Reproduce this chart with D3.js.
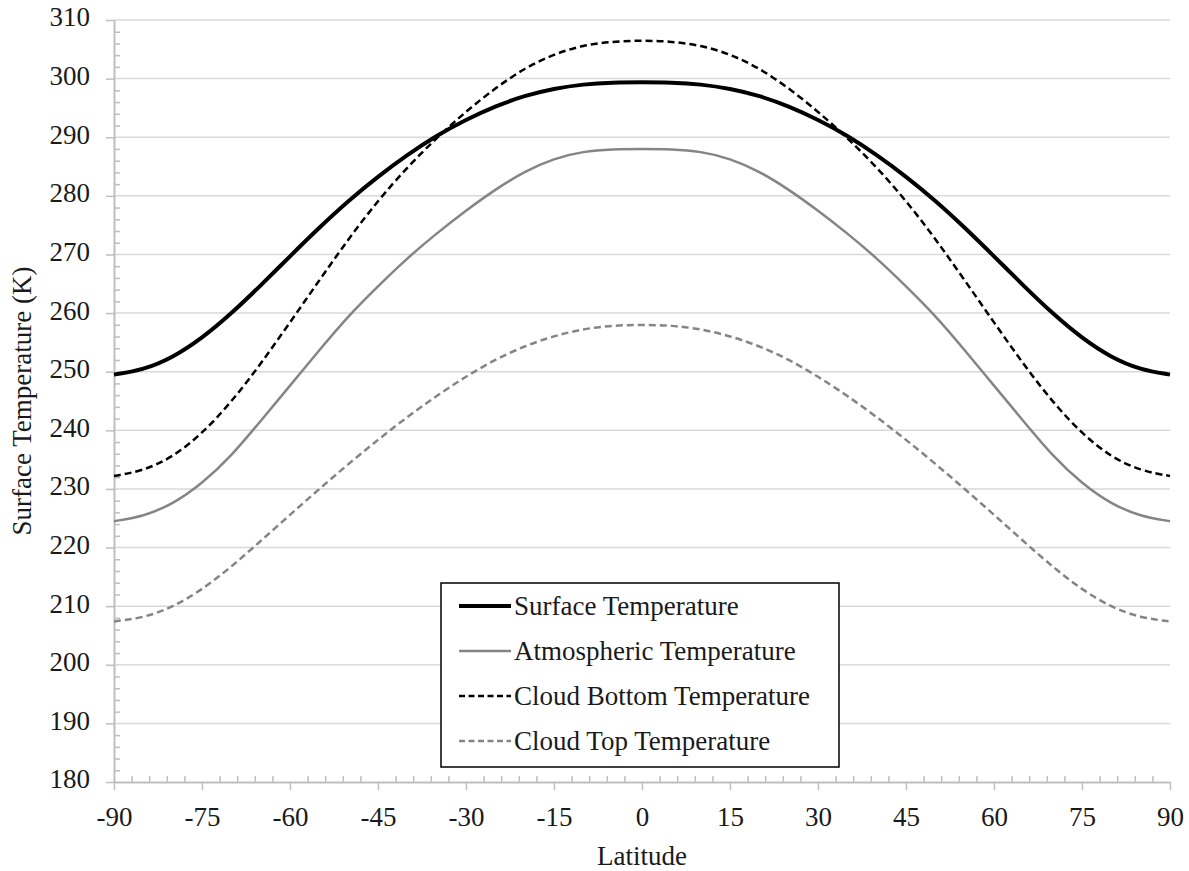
<!DOCTYPE html>
<html>
<head>
<meta charset="utf-8">
<script src="https://cdn.jsdelivr.net/npm/d3@7"></script>
<style>
  body { margin: 0; background: #fff; }
  text { font-family: "Liberation Serif", "DejaVu Serif", serif; fill: #1a1a1a; }
</style>
</head>
<body>
<div id="chart"></div>
<script>
// latitude in degrees, temperatures in K
var latitudes = [-90, -85, -80, -75, -70, -65, -60, -55, -50, -45, -40, -35, -30, -25, -20, -15, -10, -5,
  0, 5, 10, 15, 20, 25, 30, 35, 40, 45, 50, 55, 60, 65, 70, 75, 80, 85, 90];

var surfaceTemp = [249.5, 250.3, 252.4, 255.7, 259.9, 264.7, 269.7, 274.6, 279.2, 283.3, 287.0, 290.3, 293.0, 295.3, 297.1, 298.3, 299.05, 299.35,
  299.4, 299.35, 299.05, 298.3, 297.1, 295.3, 293.0, 290.3, 287.0, 283.3, 279.2, 274.6, 269.7, 264.7, 259.9, 255.7, 252.4, 250.3, 249.5];

var atmosTemp = [224.5, 225.3, 227.4, 230.9, 235.6, 241.6, 247.6, 253.7, 259.6, 264.6, 269.4, 273.6, 277.5, 281.1, 284.2, 286.4, 287.6, 287.95,
  288.0, 287.95, 287.6, 286.4, 284.2, 281.1, 277.5, 273.6, 269.4, 264.6, 259.6, 253.7, 247.6, 241.6, 235.6, 230.9, 227.4, 225.3, 224.5];

var cloudBottomTemp = [232.2, 233.1, 235.4, 239.4, 244.8, 251.3, 258.4, 265.6, 272.7, 279.2, 284.9, 289.9, 294.4, 298.4, 301.8, 304.2, 305.7, 306.35,
  306.5, 306.35, 305.7, 304.2, 301.8, 298.4, 294.4, 289.9, 284.9, 279.2, 272.7, 265.6, 258.4, 251.3, 244.8, 239.4, 235.4, 233.1, 232.2];

var cloudTopTemp = [207.4, 208.0, 209.8, 212.8, 216.7, 221.1, 225.6, 230.0, 234.3, 238.4, 242.3, 245.9, 249.2, 252.1, 254.4, 256.1, 257.3, 257.9,
  258.0, 257.9, 257.3, 256.1, 254.4, 252.1, 249.2, 245.9, 242.3, 238.4, 234.3, 230.0, 225.6, 221.1, 216.7, 212.8, 209.8, 208.0, 207.4];

var seriesNames = ["Surface Temperature", "Atmospheric Temperature", "Cloud Bottom Temperature", "Cloud Top Temperature"];
var xTicks = [-90, -75, -60, -45, -30, -15, 0, 15, 30, 45, 60, 75, 90];
var yTicks = [180, 190, 200, 210, 220, 230, 240, 250, 260, 270, 280, 290, 300, 310];

var W = 1189, H = 871;
var margin = {left: 114, right: 19, top: 20, bottom: 89};
var width = W - margin.left - margin.right,
    height = H - margin.top - margin.bottom;
var fontSize = "27px";

var svg = d3.select("#chart").append("svg")
  .attr("width", W)
  .attr("height", H);

var g = svg.append("g")
  .attr("transform", "translate(" + margin.left + "," + margin.top + ")");

var x = d3.scaleLinear().domain([-90, 90]).range([0, width]);
var y = d3.scaleLinear().domain([180, 310]).range([height, 0]);

var axisColor = "#bfbfbf";

// horizontal gridlines
g.append("g").selectAll("line")
  .data(yTicks.slice(1))
  .enter().append("line")
  .attr("x1", 0).attr("x2", width)
  .attr("y1", function(d) { return y(d); })
  .attr("y2", function(d) { return y(d); })
  .attr("stroke", "#d9d9d9")
  .attr("stroke-width", 1.5);

// minor ticks sit inside the plot
var yMinor = d3.range(180, 310.1, 2).filter(function(v) { return v % 10 !== 0; });
g.append("g").call(d3.axisRight(y).tickValues(yMinor).tickSize(6).tickFormat(""))
  .call(function(s) { s.select(".domain").remove(); s.selectAll("line").attr("stroke", axisColor).attr("stroke-width", 1.5); });

var xMinor = d3.range(-90, 90.1, 3).filter(function(v) { return v % 15 !== 0; });
g.append("g").attr("transform", "translate(0," + height + ")")
  .call(d3.axisTop(x).tickValues(xMinor).tickSize(6).tickFormat(""))
  .call(function(s) { s.select(".domain").remove(); s.selectAll("line").attr("stroke", axisColor).attr("stroke-width", 1.5); });

// major axes, plain hyphen for negatives
var fmt = function(d) { return String(d); };
var yAxis = g.append("g")
  .call(d3.axisLeft(y).tickValues(yTicks).tickFormat(fmt).tickSize(8).tickSizeOuter(0).tickPadding(16));
var xAxis = g.append("g")
  .attr("transform", "translate(0," + height + ")")
  .call(d3.axisBottom(x).tickValues(xTicks).tickFormat(fmt).tickSize(8).tickSizeOuter(0).tickPadding(17));

[yAxis, xAxis].forEach(function(a) {
  a.select(".domain").attr("stroke", axisColor).attr("stroke-width", 2);
  a.selectAll(".tick line").attr("stroke", axisColor).attr("stroke-width", 1.5);
  a.selectAll(".tick text")
    .style("font-family", "'Liberation Serif', serif")
    .style("font-size", fontSize)
    .attr("fill", "#1a1a1a");
});
yAxis.selectAll(".tick text").attr("dy", "0.22em");

// series lines
var series = [
  {name: seriesNames[0], values: surfaceTemp, color: "#000", width: 4, dash: null},
  {name: seriesNames[1], values: atmosTemp, color: "#858585", width: 2.5, dash: null},
  {name: seriesNames[2], values: cloudBottomTemp, color: "#000", width: 2.5, dash: "7,4"},
  {name: seriesNames[3], values: cloudTopTemp, color: "#858585", width: 2.5, dash: "7,4"}
];

var line = d3.line()
  .x(function(d, i) { return x(latitudes[i]); })
  .y(function(d) { return y(d); })
  .curve(d3.curveBasis);

g.selectAll(".series")
  .data(series)
  .enter().append("path")
  .attr("class", "series")
  .attr("d", function(s) { return line(s.values); })
  .attr("fill", "none")
  .attr("stroke", function(s) { return s.color; })
  .attr("stroke-width", function(s) { return s.width; })
  .attr("stroke-dasharray", function(s) { return s.dash; });

// axis titles
svg.append("text")
  .attr("transform", "translate(31," + (margin.top + height / 2) + ") rotate(-90)")
  .attr("text-anchor", "middle")
  .style("font-size", fontSize)
  .text("Surface Temperature (K)");

svg.append("text")
  .attr("x", margin.left + width / 2)
  .attr("y", 865)
  .attr("text-anchor", "middle")
  .style("font-size", fontSize)
  .text("Latitude");

// legend
var legend = svg.append("g").attr("transform", "translate(441,583)");
legend.append("rect")
  .attr("width", 398).attr("height", 184)
  .attr("fill", "#fff")
  .attr("stroke", "#000")
  .attr("stroke-width", 1.5);

var rows = legend.selectAll(".row")
  .data(series)
  .enter().append("g")
  .attr("transform", function(d, i) { return "translate(0," + (23 + i * 45) + ")"; });

rows.append("line")
  .attr("x1", 18).attr("x2", 70)
  .attr("stroke", function(s) { return s.color; })
  .attr("stroke-width", function(s) { return s.width; })
  .attr("stroke-dasharray", function(s) { return s.dash ? "6,3.5" : null; });

rows.append("text")
  .attr("x", 73)
  .attr("dy", "0.33em")
  .style("font-size", fontSize)
  .text(function(s) { return s.name; });
</script>
</body>
</html>
